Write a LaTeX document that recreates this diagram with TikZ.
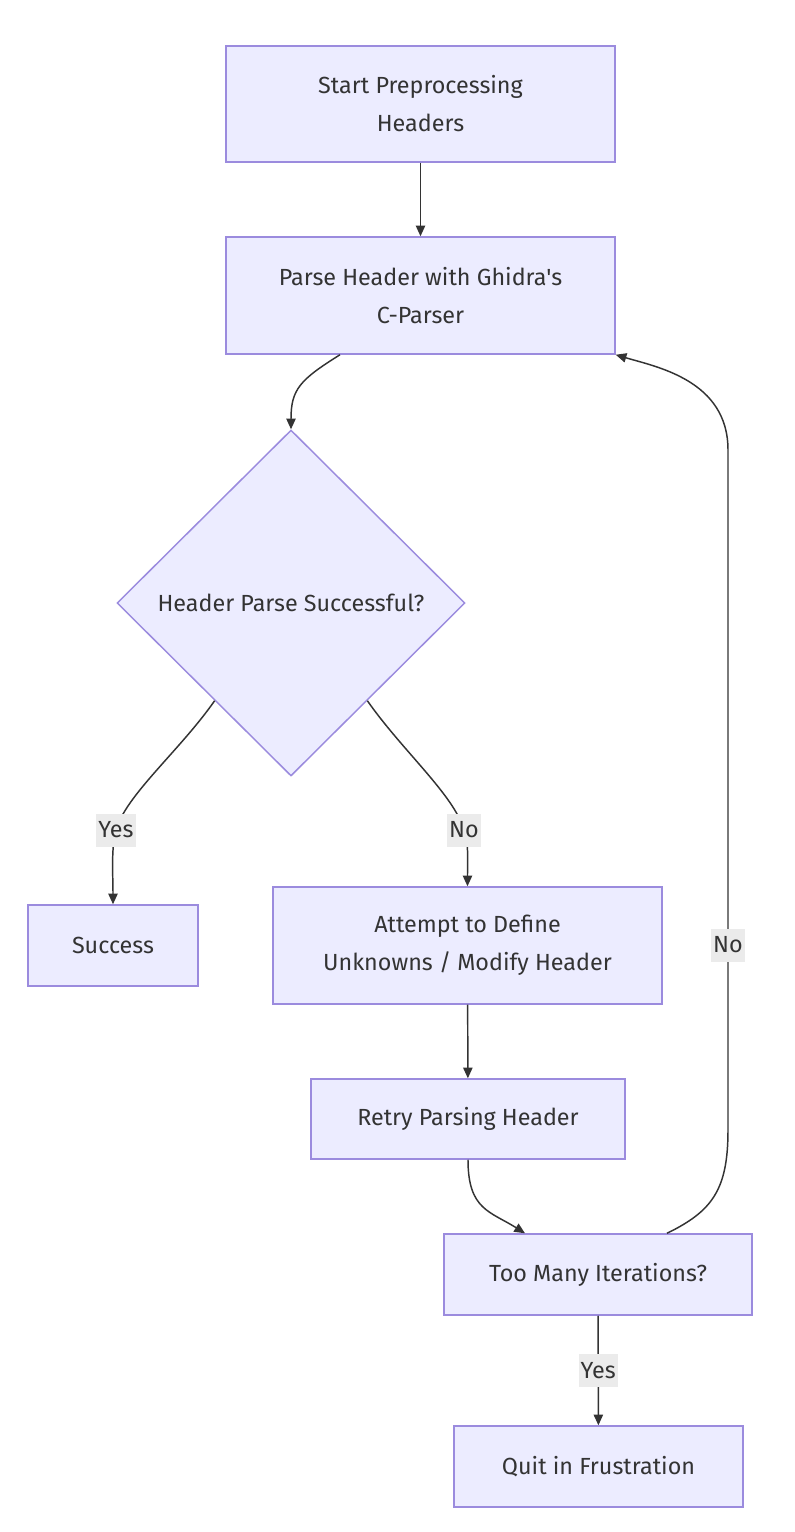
\documentclass[tikz,border=0pt]{standalone}
\usepackage{fontspec}
\setmainfont{Fira Sans}[Ligatures=TeXOff]
\usetikzlibrary{shapes.geometric,arrows.meta,calc}
\definecolor{nodefill}{HTML}{ECECFF}
\definecolor{nodeline}{HTML}{9B8BDE}
\definecolor{edgecol}{HTML}{333333}
\definecolor{lblbg}{HTML}{EBEBEB}
\begin{document}
\begin{tikzpicture}[x=0.75pt,y=-0.75pt,
  box/.style={draw=nodeline,fill=nodefill,line width=1.1pt,inner sep=0pt,align=center,
    font=\fontsize{17.5}{28.5}\selectfont,text=edgecol},
  dbox/.style={box,shape=diamond,aspect=1},
  arr/.style={draw=edgecol,line width=1.1pt,-{Triangle[length=8pt,width=7pt]}},
  lbl/.style={fill=lblbg,text=edgecol,font=\fontsize{17.5}{20}\selectfont,inner xsep=1.5pt,inner ysep=0pt,minimum height=24.75pt}]
\fill[white] (0,0) rectangle (794,1532);
\useasboundingbox (0,0) rectangle (794,1532);

\node[box,minimum width=291.75pt,minimum height=87pt] (start) at (420.5,104) {Start Preprocessing\\Headers};
\node[box,minimum width=291.75pt,minimum height=87.75pt] (parse) at (420.5,295.5) {Parse Header with Ghidra's\\C-Parser};
\node[dbox,minimum width=261pt,minimum height=259.5pt] (dia) at (291,603) {Header Parse Successful?};
\node[box,minimum width=127.5pt,minimum height=60.75pt] (success) at (113,945.5) {Success};
\node[box,minimum width=291.75pt,minimum height=87.75pt] (attempt) at (467.5,945.5) {Attempt to Define\\Unknowns / Modify Header};
\node[box,minimum width=235.5pt,minimum height=60pt] (retry) at (468,1119) {Retry Parsing Header};
\node[box,minimum width=231pt,minimum height=60.75pt] (many) at (598,1274.5) {Too Many Iterations?};
\node[box,minimum width=216.75pt,minimum height=60.75pt] (quit) at (598.5,1466.5) {Quit in Frustration};

\draw[arr] (start) -- (parse);
\draw[arr] ($(parse.south)+(-80.5,0)$) .. controls +(-40,25) and +(0,-40) .. (dia.north);
\draw[arr] (dia.232) .. controls +(-35,50) and +(10,-35) .. (116,830) node[lbl] {Yes} .. controls +(-5,18) and +(0,-30) .. (success.north);
\draw[arr] (dia.308) .. controls +(35,50) and +(-10,-35) .. (464,830) node[lbl] {No} .. controls +(5,18) and +(0,-30) .. (attempt.north);
\draw[arr] (attempt) -- (retry);
\draw[arr] (retry.south) .. controls +(0,50) and +(-35,-22) .. ($(many.north)+(-73,0)$);
\draw[arr] (many) -- node[lbl] {Yes} (quit);
\draw[arr] ($(many.north)+(69,0)$) .. controls +(45,-22) and +(0,60) .. (728,1130) -- (728,945) node[lbl] {No} -- (728,450) .. controls +(0,-70) and +(40,12) .. (parse.south east);
\end{tikzpicture}
\end{document}
